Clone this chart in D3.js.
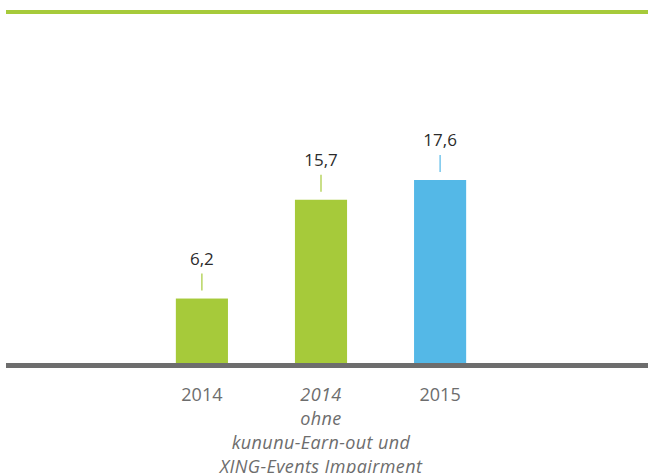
<!DOCTYPE html>
<html>
<head>
<meta charset="utf-8">
<script src="https://cdn.jsdelivr.net/npm/d3@7"></script>
<style>
  html, body { margin: 0; padding: 0; background: #fff; }
  svg { display: block; font-family: "Open Sans", sans-serif; }
</style>
</head>
<body>
<div id="chart"></div>
<script>
// data
const categories = ["a", "b", "c"];
const values = [6.2, 15.7, 17.6];
const valueLabels = ["6,2", "15,7", "17,6"];
const categoryLabels = [["2014"], ["2014", "ohne", "kununu-Earn-out und", "XING-Events Impairment"], ["2015"]];
const barColors = ["#a6ca3a", "#a6ca3a", "#54b8e7"];
const italicLabel = [false, true, false];

const width = 648, height = 473;
const baseY = 363;

const svg = d3.select("#chart").append("svg")
  .attr("width", width)
  .attr("height", height);

// top accent line
svg.append("rect")
  .attr("x", 6).attr("y", 10)
  .attr("width", width - 6).attr("height", 4)
  .attr("fill", "#a6ca3a");

const x = d3.scaleBand()
  .domain(categories)
  .range([142.5, 499.5])
  .paddingInner(0.5625)
  .paddingOuter(0.28);

const y = d3.scaleLinear()
  .domain([0, 17.6])
  .range([baseY, 180]);

// bars
svg.selectAll("rect.bar")
  .data(values)
  .enter()
  .append("rect")
  .attr("class", "bar")
  .attr("x", (d, i) => x(categories[i]))
  .attr("y", d => y(d))
  .attr("width", x.bandwidth())
  .attr("height", d => baseY - y(d))
  .attr("fill", (d, i) => barColors[i]);

// little connector lines
svg.selectAll("line.tick-mark")
  .data(values)
  .enter()
  .append("line")
  .attr("class", "tick-mark")
  .attr("x1", (d, i) => x(categories[i]) + x.bandwidth() / 2)
  .attr("x2", (d, i) => x(categories[i]) + x.bandwidth() / 2)
  .attr("y1", d => y(d) - 25)
  .attr("y2", d => y(d) - 8)
  .attr("stroke", (d, i) => barColors[i])
  .attr("stroke-width", 1.2);

// value labels
svg.selectAll("text.value")
  .data(values)
  .enter()
  .append("text")
  .attr("class", "value")
  .attr("x", (d, i) => x(categories[i]) + x.bandwidth() / 2)
  .attr("y", d => y(d) - 34)
  .attr("text-anchor", "middle")
  .attr("font-size", 17)
  .attr("fill", "#2b2b2b")
  .text((d, i) => valueLabels[i]);

// baseline
svg.append("rect")
  .attr("x", 6).attr("y", baseY)
  .attr("width", width - 6).attr("height", 5)
  .attr("fill", "#6d6d6d");

// category labels
const cat = svg.selectAll("text.cat")
  .data(categories)
  .enter()
  .append("text")
  .attr("class", "cat")
  .attr("text-anchor", "middle")
  .attr("font-size", 18)
  .attr("fill", "#6d6d6d")
  .attr("font-style", (d, i) => italicLabel[i] ? "italic" : "normal")
  .attr("letter-spacing", (d, i) => italicLabel[i] ? 0.4 : 0)
  .attr("y", 401);

cat.each(function (d, i) {
  const cx = x(d) + x.bandwidth() / 2;
  d3.select(this).selectAll("tspan")
    .data(categoryLabels[i])
    .enter()
    .append("tspan")
    .attr("x", cx)
    .attr("dy", (t, j) => j === 0 ? 0 : 24)
    .text(t => t);
});
</script>
</body>
</html>
